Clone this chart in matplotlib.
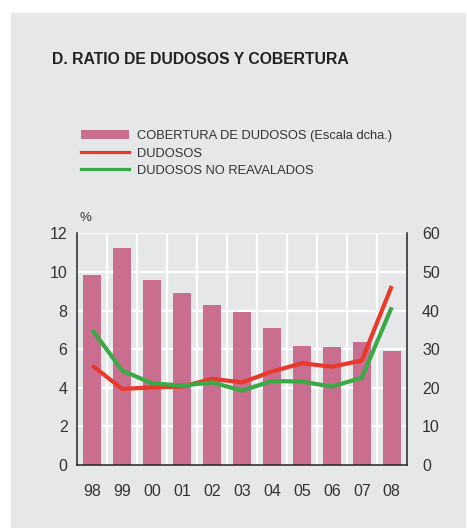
import matplotlib
matplotlib.use("Agg")
import matplotlib.pyplot as plt
from matplotlib.patches import Rectangle
from matplotlib.lines import Line2D
from matplotlib.patches import Patch
import numpy as np

plt.rcParams['font.family'] = ['Liberation Sans', 'DejaVu Sans']

years = ["98", "99", "00", "01", "02", "03", "04", "05", "06", "07", "08"]
cobertura = [49.2, 56.2, 47.9, 44.6, 41.4, 39.6, 35.5, 30.8, 30.6, 31.9, 29.5]
dudosos = [5.15, 3.94, 4.02, 4.06, 4.46, 4.28, 4.84, 5.27, 5.09, 5.41, 9.27]
dudosos_no_reav = [7.0, 4.89, 4.23, 4.11, 4.28, 3.85, 4.35, 4.32, 4.06, 4.52, 8.17]
left_ticks = [0, 2, 4, 6, 8, 10, 12]
right_ticks = [0, 10, 20, 30, 40, 50, 60]

BG = "#e6e7e8"
PINK = "#c96e8e"
RED = "#e8392b"
GREEN = "#3aaa47"
TXT = "#333333"

W, H = 467, 528
fig = plt.figure(figsize=(W / 100, H / 100), dpi=100, facecolor="white")
fig.patches.append(Rectangle((11 / W, 0), (466 - 11) / W, (H - 13) / H,
                             transform=fig.transFigure, facecolor=BG,
                             edgecolor="none", zorder=-10))

fig.text(52 / W, 1 - 60 / H, "D. RATIO DE DUDOSOS Y COBERTURA", fontsize=11.3,
         fontweight="bold", color="#222222", va="center", ha="left")

ax = fig.add_axes([77.3 / W, 63 / H, (406.7 - 77.3) / W, (465 - 233.3) / H])
ax.set_facecolor("none")
x = np.arange(len(years))
ax.bar(x, cobertura, width=0.6, color=PINK, zorder=2)
ax.set_ylim(0, 60)
ax.set_xlim(-0.5, len(years) - 0.5)
ax.set_xticks(x)
ax.set_xticklabels(years)
ax.set_xticks(np.arange(0.5, len(years) - 1, 1), minor=True)
ax.grid(True, axis="y", which="major", color="white", lw=1.6, zorder=0)
ax.grid(True, axis="x", which="minor", color="white", lw=1.6, zorder=0)
ax.grid(False, axis="x", which="major")
ax.set_axisbelow(True)

ax2 = ax.twinx()
ax2.set_ylim(0, 12)
ax2.set_yticks(left_ticks)
ax2.yaxis.tick_left()
ax2.tick_params(axis="y", length=0, labelsize=11.5, colors=TXT, pad=7)
ax2.plot(x, dudosos, color=RED, lw=3, solid_capstyle="butt", zorder=3)
ax2.plot(x, dudosos_no_reav, color=GREEN, lw=3, solid_capstyle="butt", zorder=3)
for s in ax2.spines.values():
    s.set_visible(False)

ax.set_yticks(right_ticks)
ax.yaxis.tick_right()
ax.tick_params(axis="both", which="both", length=0, labelsize=11.5, colors=TXT)
ax.tick_params(axis="x", pad=14)
ax.tick_params(axis="y", pad=11)
for s in ["left", "bottom", "right"]:
    ax.spines[s].set_color("#222222")
    ax.spines[s].set_linewidth(1.1)
ax.spines["top"].set_visible(False)

fig.text(85 / W, 1 - 218 / H, "%", fontsize=9.5, color=TXT, ha="center", va="center")

handles = [Patch(facecolor=PINK, edgecolor="none"),
           Line2D([], [], color=RED, lw=2.3),
           Line2D([], [], color=GREEN, lw=2.3)]
labels = ["COBERTURA DE DUDOSOS (Escala dcha.)", "DUDOSOS", "DUDOSOS NO REAVALADOS"]
leg = fig.legend(handles, labels, loc="upper left",
                 bbox_to_anchor=(81 / W, 1 - 130 / H), frameon=False,
                 fontsize=9.3, labelcolor=TXT, handlelength=3.75, handleheight=0.7,
                 handletextpad=0.55, labelspacing=0.42, borderpad=0, borderaxespad=0)

fig.savefig("out.png", dpi=100, facecolor=fig.get_facecolor())
